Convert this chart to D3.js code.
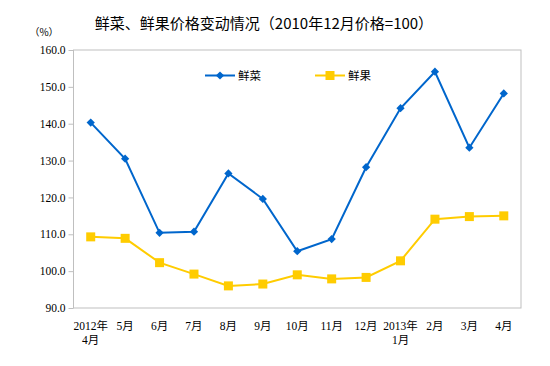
<!DOCTYPE html>
<html><head><meta charset="utf-8">
<script src="https://cdn.jsdelivr.net/npm/d3@7"></script>
<style>body{margin:0;background:#fff}svg{display:block}</style>
</head><body><svg id="c" width="550" height="366"></svg>
<script>
const categories = ["2012年\n4月","5月","6月","7月","8月","9月","10月","11月","12月","2013年\n1月","2月","3月","4月"];
const vegetables = [140.3,130.5,110.4,110.7,126.5,119.6,105.4,108.7,128.2,144.2,154.1,133.5,148.2];
const fruits = [109.3,108.9,102.3,99.2,96.0,96.5,99.0,97.9,98.3,102.8,114.1,114.8,115.0];
const yTicks = [90,100,110,120,130,140,150,160];
const seriesNames = ["鲜菜","鲜果"];

const svg = d3.select("#c");
const L=73.5, R=521, T=50, B=308;
const x = d3.scaleBand().domain(categories).range([L,R]);
const y = d3.scaleLinear().domain([90,160]).range([B,T]);
const cjk = "'Noto Sans CJK SC', sans-serif";
const serif = "'Liberation Serif', 'Noto Sans CJK SC', serif";

svg.append("text").attr("x",264).attr("y",29).attr("text-anchor","middle")
  .style("font-family",cjk).style("font-size","15px").attr("fill","#000")
  .text("鲜菜、鲜果价格变动情况（2010年12月价格=100）");
svg.append("text").attr("x",44).attr("y",36).attr("text-anchor","middle")
  .style("font-family",cjk).style("font-size","10px").attr("fill","#000").text("（%）");

svg.append("rect").attr("x",L).attr("y",T).attr("width",R-L).attr("height",B-T)
  .attr("fill","none").attr("stroke","#bfbfbf").attr("stroke-width",1);

const ya = svg.append("g").attr("transform",`translate(${L},0)`)
  .call(d3.axisLeft(y).tickValues(yTicks).tickFormat(d3.format(".1f")).tickSize(5).tickPadding(3));
ya.select(".domain").remove();
ya.selectAll("line").attr("stroke","#bfbfbf");
ya.selectAll("text").style("font-family",serif).style("font-size","11.5px").attr("fill","#000");

const xl = svg.append("g");
categories.forEach(c=>{
  const t = xl.append("text").attr("x",x(c)+x.bandwidth()/2).attr("y",330).attr("text-anchor","middle")
    .style("font-family",serif).style("font-size","11.5px").attr("fill","#000");
  c.split("\n").forEach((s,i)=>t.append("tspan").attr("x",x(c)+x.bandwidth()/2).attr("dy",i?14:0).text(s));
});

const cx = (d,i)=>x(categories[i])+x.bandwidth()/2;
const line = d3.line().x((d,i)=>cx(d,i)).y(d=>y(d));
const colors = ["#0066CC","#FFCC00"];

svg.append("path").datum(fruits).attr("d",line).attr("fill","none").attr("stroke",colors[1]).attr("stroke-width",2);
svg.selectAll(".sq").data(fruits).enter().append("rect")
  .attr("x",(d,i)=>cx(d,i)-4.5).attr("y",d=>y(d)-4.5).attr("width",9).attr("height",9).attr("fill",colors[1]);
svg.append("path").datum(vegetables).attr("d",line).attr("fill","none").attr("stroke",colors[0]).attr("stroke-width",2);
svg.selectAll(".dm").data(vegetables).enter().append("path")
  .attr("d",d3.symbol().type(d3.symbolSquare).size(34))
  .attr("transform",(d,i)=>`translate(${cx(d,i)},${y(d)}) rotate(45)`).attr("fill",colors[0]);

const lg = [{x:205,c:colors[0],n:seriesNames[0],m:"d"},{x:315,c:colors[1],n:seriesNames[1],m:"s"}];
lg.forEach(o=>{
  svg.append("line").attr("x1",o.x).attr("x2",o.x+30).attr("y1",75.5).attr("y2",75.5).attr("stroke",o.c).attr("stroke-width",2);
  if(o.m==="d") svg.append("path").attr("d",d3.symbol().type(d3.symbolSquare).size(34)).attr("transform",`translate(${o.x+15},75.5) rotate(45)`).attr("fill",o.c);
  else svg.append("rect").attr("x",o.x+10.5).attr("y",71).attr("width",9).attr("height",9).attr("fill",o.c);
  svg.append("text").attr("x",o.x+33).attr("y",80).style("font-family",cjk).style("font-size","11.5px").attr("fill","#000").text(o.n);
});
</script></body></html>
